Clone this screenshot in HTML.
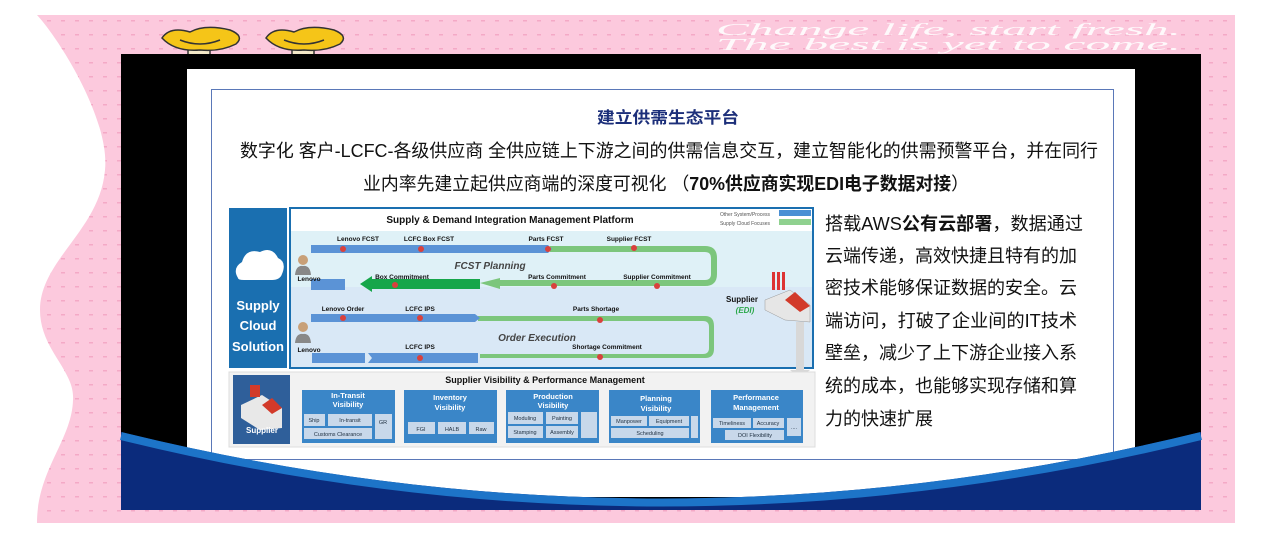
<!DOCTYPE html>
<html><head><meta charset="utf-8"><style>
html,body{margin:0;padding:0;width:1270px;height:540px;overflow:hidden;background:#fff}
svg{display:block}
</style></head><body>
<svg width="1270" height="540" viewBox="0 0 1270 540" xmlns="http://www.w3.org/2000/svg" font-family="Liberation Sans, Noto Sans CJK SC, sans-serif">
<defs>
<pattern id="dots" width="14" height="14" patternUnits="userSpaceOnUse"><rect x="5" y="6" width="4" height="1.5" fill="#f4a9c6"/></pattern>
</defs>
<path d="M37,15 L1235,15 L1235,523 L37,523 C37,470 72,440 73,400 C75,370 40,350 40,310 C40,260 100,230 105,170 C110,120 60,40 37,15 Z" fill="#fcc9dd"/>
<path d="M37,15 L1235,15 L1235,523 L37,523 C37,470 72,440 73,400 C75,370 40,350 40,310 C40,260 100,230 105,170 C110,120 60,40 37,15 Z" fill="url(#dots)"/>
<text x="716" y="35" font-family="Liberation Serif, serif" font-style="italic" font-size="17" fill="#fff" textLength="465" lengthAdjust="spacingAndGlyphs" opacity="0.9">Change life, start fresh.</text>
<text x="716" y="50" font-family="Liberation Serif, serif" font-style="italic" font-size="17" fill="#fff" textLength="465" lengthAdjust="spacingAndGlyphs" opacity="0.9">The best is yet to come.</text>
<g stroke="#333" stroke-width="1.5">
<rect x="188" y="44" width="22" height="12" fill="#f3e8c8"/>
<path d="M162,38 Q170,26 190,32 Q205,24 230,30 Q245,36 236,44 Q220,52 200,50 Q175,52 162,38Z" fill="#f5c518"/>
<path d="M180,40 Q200,48 220,40" fill="none"/>
<rect x="292" y="44" width="22" height="12" fill="#f3e8c8"/>
<path d="M266,38 Q274,26 294,32 Q309,24 334,30 Q349,36 340,44 Q324,52 304,50 Q279,52 266,38Z" fill="#f5c518"/>
<path d="M284,40 Q304,48 324,40" fill="none"/>
</g>
<rect x="121" y="54" width="1080" height="456" fill="#000"/>
<rect x="187" y="69" width="948" height="428" fill="#fff"/>
<rect x="211.5" y="89.5" width="902" height="370" fill="none" stroke="#5a78b8" stroke-width="1"/>
<text x="668" y="123" font-size="16" font-weight="bold" fill="#1c2f7a" text-anchor="middle" textLength="142" lengthAdjust="spacingAndGlyphs">建立供需生态平台</text>
<text x="240" y="157" font-size="18" fill="#111" textLength="858" lengthAdjust="spacingAndGlyphs">数字化 客户-LCFC-各级供应商 全供应链上下游之间的供需信息交互，建立智能化的供需预警平台，并在同行</text>
<text x="363" y="190" font-size="18" fill="#111" textLength="606" lengthAdjust="spacingAndGlyphs">业内率先建立起供应商端的深度可视化 （<tspan font-weight="bold">70%供应商实现EDI电子数据对接</tspan>）</text>
<g font-size="18" fill="#111">
<text x="825" y="230" textLength="258" lengthAdjust="spacingAndGlyphs">搭载AWS<tspan font-weight="bold">公有云部署</tspan>，数据通过</text>
<text x="825" y="262" textLength="252" lengthAdjust="spacingAndGlyphs">云端传递，高效快捷且特有的加</text>
<text x="825" y="294" textLength="252" lengthAdjust="spacingAndGlyphs">密技术能够保证数据的安全。云</text>
<text x="825" y="327" textLength="252" lengthAdjust="spacingAndGlyphs">端访问，打破了企业间的IT技术</text>
<text x="825" y="359" textLength="252" lengthAdjust="spacingAndGlyphs">壁垒，减少了上下游企业接入系</text>
<text x="825" y="392" textLength="252" lengthAdjust="spacingAndGlyphs">统的成本，也能够实现存储和算</text>
<text x="825" y="425" textLength="108" lengthAdjust="spacingAndGlyphs">力的快速扩展</text>
</g>
<rect x="229" y="208" width="58" height="160" fill="#1a6fb0"/>
<path d="M238,278 Q232,268 242,262 Q246,248 260,252 Q272,246 278,258 Q287,262 282,274 Q280,280 272,280 L244,280 Q238,280 238,278Z" fill="#fff"/>
<g font-size="13" font-weight="bold" fill="#fff" text-anchor="middle"><text x="258" y="310">Supply</text><text x="258" y="330">Cloud</text><text x="258" y="351">Solution</text></g>
<rect x="290" y="208" width="523" height="160" fill="#fff" stroke="#1a6fb0" stroke-width="2"/>
<rect x="291" y="231" width="521" height="56" fill="#dff1f7"/>
<rect x="291" y="287" width="521" height="80" fill="#d9e8f6"/>
<text x="510" y="223" font-size="10" font-weight="bold" text-anchor="middle" fill="#111">Supply &amp; Demand Integration Management Platform</text>
<text x="770" y="216" font-size="5" fill="#555" text-anchor="end">Other System/Process</text>
<rect x="779" y="210" width="32" height="6" fill="#4a8fd4"/>
<text x="770" y="225" font-size="5" fill="#555" text-anchor="end">Supply Cloud Focuses</text>
<rect x="779" y="219" width="32" height="6" fill="#8fd18f"/>
<path d="M550,246 L705,246 Q717,246 717,258 L717,274 Q717,286 705,286 L500,286 L500,280 L705,280 Q711,280 711,274 L711,258 Q711,252 705,252 L550,252Z" fill="#7cc67c"/>
<path d="M480,283 L500,278 L500,289Z" fill="#7cc67c"/>
<path d="M311,245 L548,245 L552,249 L548,253 L311,253Z" fill="#5b93d6"/>
<path d="M372,279 L480,279 L480,289 L372,289 L372,292 L360,284 L372,276Z" fill="#16a64a"/>
<rect x="311" y="279" width="34" height="11" fill="#5b93d6"/>
<g fill="#d9413d"><circle cx="343" cy="249" r="3"/><circle cx="421" cy="249" r="3"/><circle cx="548" cy="249" r="3"/><circle cx="634" cy="248" r="3"/><circle cx="395" cy="285" r="3"/><circle cx="554" cy="286" r="3"/><circle cx="657" cy="286" r="3"/></g>
<g font-size="6.5" font-weight="bold" fill="#111" text-anchor="middle">
<text x="358" y="241">Lenovo FCST</text><text x="429" y="241">LCFC Box FCST</text><text x="546" y="241">Parts FCST</text><text x="629" y="241">Supplier FCST</text>
<text x="402" y="279">Box Commitment</text><text x="557" y="279">Parts Commitment</text><text x="657" y="279">Supplier Commitment</text>
<text x="343" y="311">Lenovo Order</text><text x="420" y="311">LCFC IPS</text><text x="596" y="311">Parts Shortage</text>
<text x="420" y="349">LCFC IPS</text><text x="607" y="349">Shortage Commitment</text>
<text x="309" y="281">Lenovo</text><text x="309" y="352">Lenovo</text>
</g>
<text x="490" y="269" font-size="10" font-style="italic" font-weight="bold" fill="#444" text-anchor="middle">FCST Planning</text>
<text x="537" y="341" font-size="10" font-style="italic" font-weight="bold" fill="#444" text-anchor="middle">Order Execution</text>
<g><circle cx="303" cy="260" r="5" fill="#c8a078"/><path d="M295,275 Q296,265 303,266 Q310,265 311,275Z" fill="#888"/></g>
<g><circle cx="303" cy="327" r="5" fill="#c8a078"/><path d="M295,343 Q296,333 303,334 Q310,333 311,343Z" fill="#888"/></g>
<path d="M478,316 L705,316 Q714,316 714,326 L714,349 Q714,358 705,358 L480,358 L480,354 L703,354 Q709,354 709,348 L709,327 Q709,321 703,321 L478,321Z" fill="#7cc67c"/>
<path d="M311,314 L475,314 L480,318 L475,322 L311,322Z" fill="#5b93d6"/>
<rect x="312" y="353" width="53" height="10" fill="#5b93d6"/>
<path d="M368,353 L478,353 L478,363 L368,363 L372,358Z" fill="#5b93d6"/>
<g fill="#d9413d"><circle cx="343" cy="318" r="3"/><circle cx="420" cy="318" r="3"/><circle cx="600" cy="320" r="3"/><circle cx="420" cy="358" r="3"/><circle cx="600" cy="357" r="3"/></g>
<text x="742" y="302" font-size="8" font-weight="bold" fill="#111" text-anchor="middle">Supplier</text>
<text x="745" y="313" font-size="8" font-weight="bold" font-style="italic" fill="#2aa84a" text-anchor="middle">(EDI)</text>
<rect x="796" y="322" width="8" height="50" fill="#d8d8d8"/>
<path d="M790,370 L800,378 L810,370Z" fill="#d8d8d8"/>
<g><rect x="772" y="272" width="3" height="18" fill="#d33"/><rect x="777" y="272" width="3" height="18" fill="#d33"/><rect x="782" y="272" width="3" height="18" fill="#d33"/>
<path d="M765,300 L790,290 L810,305 L810,322 L785,320 L765,310Z" fill="#e6e6e6" stroke="#999" stroke-width="0.5"/>
<path d="M785,300 L795,292 L810,306 L800,312Z" fill="#d23a2a"/></g>
<rect x="229" y="372" width="586" height="75" fill="#f2f2f2" stroke="#ddd"/>
<text x="545" y="383" font-size="9" font-weight="bold" fill="#111" text-anchor="middle">Supplier Visibility &amp; Performance Management</text>
<rect x="233" y="375" width="57" height="69" fill="#2f5f9a"/>
<path d="M241,405 L262,395 L282,408 L282,428 L260,430 L241,418Z" fill="#e8e8e8"/>
<path d="M262,405 L272,398 L282,408 L272,414Z" fill="#d23a2a"/>
<rect x="250" y="385" width="10" height="12" fill="#d23a2a"/>
<text x="262" y="433" font-size="8" font-weight="bold" fill="#fff" text-anchor="middle">Supplier</text>
<g fill="#3a86c8"><rect x="302" y="390" width="93" height="53"/><rect x="404" y="390" width="93" height="53"/><rect x="506" y="390" width="93" height="53"/><rect x="609" y="390" width="91" height="53"/><rect x="711" y="390" width="92" height="53"/></g>
<g font-size="7.5" font-weight="bold" fill="#fff" text-anchor="middle">
<text x="348" y="398">In-Transit</text><text x="348" y="407">Visibility</text>
<text x="450" y="400">Inventory</text><text x="450" y="410">Visibility</text>
<text x="553" y="399">Production</text><text x="553" y="408">Visibility</text>
<text x="656" y="401">Planning</text><text x="656" y="411">Visibility</text>
<text x="756" y="400">Performance</text><text x="756" y="410">Management</text>
</g>
<g fill="#c8d8ea">
<rect x="304" y="414" width="21" height="12"/><rect x="328" y="414" width="44" height="12"/><rect x="304" y="428" width="68" height="11"/><rect x="375" y="414" width="17" height="25"/>
<rect x="408" y="422" width="27" height="12"/><rect x="438" y="422" width="28" height="12"/><rect x="469" y="422" width="25" height="12"/>
<rect x="508" y="412" width="35" height="12"/><rect x="546" y="412" width="32" height="12"/><rect x="508" y="426" width="35" height="12"/><rect x="546" y="426" width="32" height="12"/><rect x="581" y="412" width="16" height="26"/>
<rect x="611" y="416" width="36" height="10"/><rect x="649" y="416" width="40" height="10"/><rect x="611" y="428" width="78" height="10"/><rect x="691" y="416" width="7" height="22"/>
<rect x="713" y="418" width="38" height="10"/><rect x="753" y="418" width="31" height="10"/><rect x="725" y="430" width="59" height="10"/><rect x="787" y="418" width="14" height="18"/>
</g>
<g font-size="5.5" fill="#234" text-anchor="middle">
<text x="314" y="422">Ship</text><text x="350" y="422">In-transit</text><text x="338" y="436">Customs Clearance</text><text x="383" y="424">GR</text>
<text x="421" y="431">FGI</text><text x="452" y="431">HALB</text><text x="481" y="431">Raw</text>
<text x="525" y="420">Moduling</text><text x="562" y="420">Painting</text><text x="525" y="434">Stamping</text><text x="562" y="434">Assembly</text>
<text x="629" y="423">Manpower</text><text x="669" y="423">Equipment</text><text x="650" y="435">Scheduling</text>
<text x="732" y="425">Timeliness</text><text x="768" y="425">Accuracy</text><text x="755" y="437">DOI Flexibility</text><text x="794" y="429">....</text>
</g>
<path d="M121,432 Q661,565 1201,432 L1201,510 L121,510Z" fill="#0b2b7c"/>
<path d="M121,436 Q661,569 1201,436" fill="none" stroke="#1d74c8" stroke-width="8"/>
</svg>
</body></html>
